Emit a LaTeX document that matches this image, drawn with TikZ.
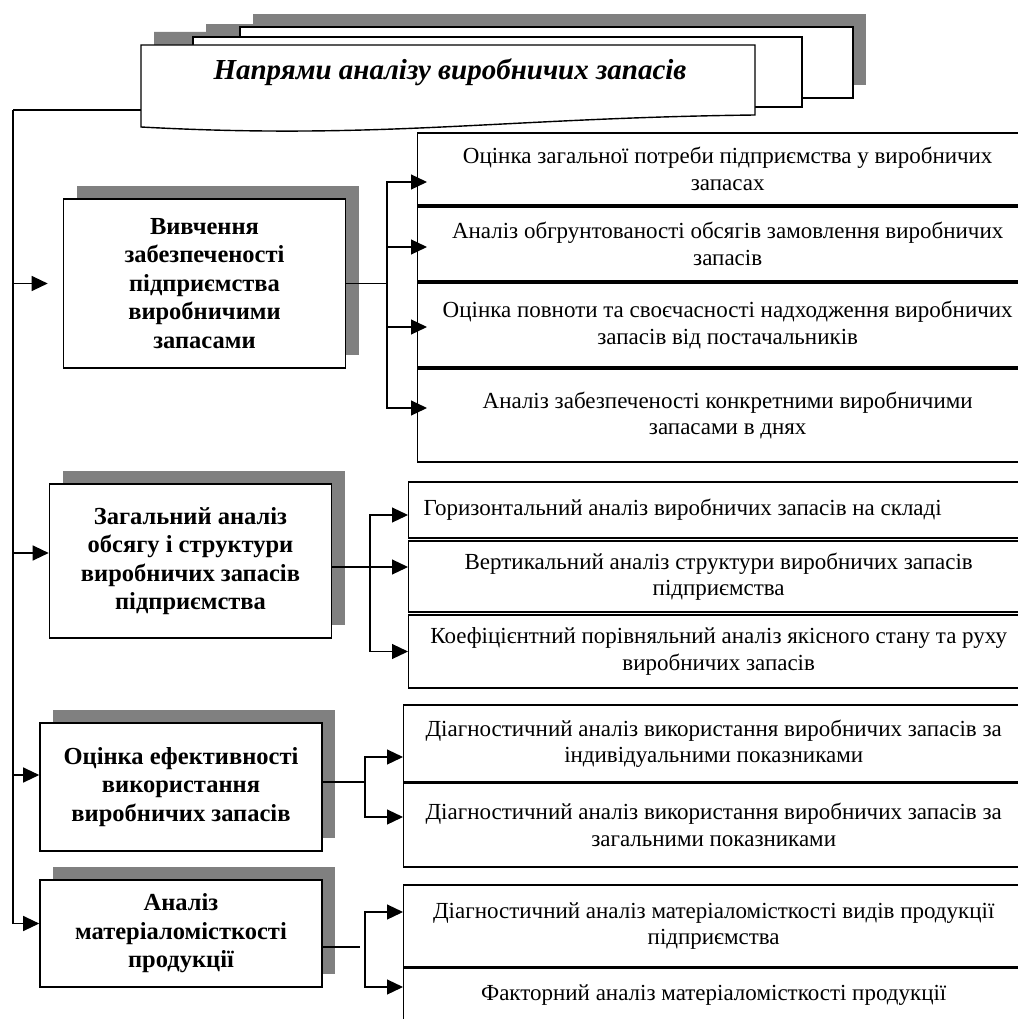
\documentclass[tikz,border=0pt]{standalone}
\usepackage{fontspec}
\setmainfont{Liberation Serif}
\usetikzlibrary{arrows.meta,shadows}

\begin{document}
\begin{tikzpicture}[
  x=1pt, y=-1pt,
  line width=1.2pt,
  boxshadow/.style={drop shadow={shadow xshift=13pt, shadow yshift=13pt, fill=black!50, opacity=1}},
  ghost/.style={fill=black!50, xshift=13pt, yshift=13pt},
  card/.style={draw, fill=white, line width=1.4pt},
  sup/.style={draw, fill=white, line width=1.6pt, align=center, inner sep=2pt, minimum width=282pt,
    font=\fontsize{24.5}{28.5}\selectfont\bfseries, boxshadow},
  item/.style={draw, fill=white, line width=1.4pt, align=center, inner sep=2pt, minimum width=620pt,
    anchor=west, font=\fontsize{23}{26.5}\selectfont},
  arr/.style={-{Triangle[length=16pt,width=15pt]}},
]
\useasboundingbox (0,0) rectangle (1017,1019);

\fill[ghost] (240,27) rectangle (853,98);
\fill[ghost] (193,37) rectangle (802,107);
\fill[ghost] (141,45) -- (755,45) -- (755,115) .. controls (500,118) and (380,140) .. (141,127) -- cycle;
\draw[card] (240,27) rectangle (853,98);
\draw[card] (193,37) rectangle (802,107);
\draw[card] (141,45) -- (755,45) -- (755,115) .. controls (500,118) and (380,140) .. (141,127) -- cycle;
\node[font=\fontsize{29}{34}\selectfont\bfseries\itshape] (title) at (450,72) {Напрями аналізу виробничих запасів};
\coordinate (cardw) at (141,110);
\coordinate (top) at (13,110);

\node[sup, minimum height=169pt] (sup1) at (204.5,283.5) {Вивчення\\забезпеченості\\підприємства\\виробничими\\запасами};
\node[sup, minimum height=154pt] (sup2) at (190.5,561) {Загальний аналіз\\обсягу і структури\\виробничих запасів\\підприємства};
\node[sup, minimum height=128pt] (sup3) at (181,787) {Оцінка ефективності\\використання\\виробничих запасів};
\node[sup, minimum height=107pt] (sup4) at (181,933.5) {Аналіз\\матеріаломісткості\\продукції};

\node[item, minimum height=72pt] (a1) at (417,169) {Оцінка загальної потреби підприємства у виробничих\\запасах};
\node[item, minimum height=74pt] (a2) at (417,244) {Аналіз обгрунтованості обсягів замовлення виробничих\\запасів};
\node[item, minimum height=84pt] (a3) at (417,325) {Оцінка повноти та своєчасності надходження виробничих\\запасів від постачальників};
\node[item, minimum height=93pt] (a4) at (417,415.5) {Аналіз забезпеченості конкретними виробничими\\запасами в днях};

\node[item, minimum height=56pt, text width=600pt, align=flush left, inner xsep=15pt] (b1) at (408,510) {Горизонтальний аналіз виробничих запасів на складі};
\node[item, minimum height=71pt] (b2) at (408,576.5) {Вертикальний аналіз структури виробничих запасів\\підприємства};
\node[item, minimum height=73pt] (b3) at (408,651.5) {Коефіцієнтний порівняльний аналіз якісного стану та руху\\виробничих запасів};

\node[item, minimum height=77pt] (c1) at (403,743.5) {Діагностичний аналіз використання виробничих запасів за\\індивідуальними показниками};
\node[item, minimum height=84pt] (c2) at (403,825) {Діагностичний аналіз використання виробничих запасів за\\загальними показниками};

\node[item, minimum height=82pt] (d1) at (403,926) {Діагностичний аналіз матеріаломісткості видів продукції\\підприємства};
\node[item, minimum height=54pt] (d2) at (403,995) {Факторний аналіз матеріаломісткості продукції};

\draw (cardw) -- (top);
\draw[arr, shorten >=15pt] (top) |- (sup1.west);
\draw[arr] (top) |- ([yshift=8pt]sup2.west);
\draw[arr] (top) |- ([yshift=12pt]sup3.west);
\draw[arr] (top) |- ([yshift=10pt]sup4.west);

\coordinate (g1) at (387,283.5);
\draw (sup1.east) -- (g1);
\draw[arr, shorten >=-10pt] (g1) |- ([yshift=-13pt]a1.west);
\draw[arr, shorten >=-10pt] (g1) |- ([yshift=-3pt]a2.west);
\draw[arr, shorten >=-10pt] (g1) |- ([yshift=-2pt]a3.west);
\draw[arr, shorten >=-10pt] (g1) |- ([yshift=7.5pt]a4.west);

\coordinate (g2) at (370,567);
\draw ([yshift=-6pt]sup2.east) -- (g2);
\draw[arr] (g2) |- ([yshift=-5pt]b1.west);
\draw[arr] (g2) |- ([yshift=9.5pt]b2.west);
\draw[arr] (g2) |- (b3.west);

\coordinate (g3) at (365,782);
\draw ([yshift=5pt]sup3.east) -- (g3);
\draw[arr] (g3) |- ([yshift=-13.5pt]c1.west);
\draw[arr] (g3) |- ([yshift=8pt]c2.west);

\coordinate (g4) at (365,947);
\draw[shorten >=5pt] ([yshift=-13.5pt]sup4.east) -- (g4);
\draw[arr] (g4) |- ([yshift=14pt]d1.west);
\draw[arr] (g4) |- ([yshift=8pt]d2.west);
\end{tikzpicture}
\end{document}
